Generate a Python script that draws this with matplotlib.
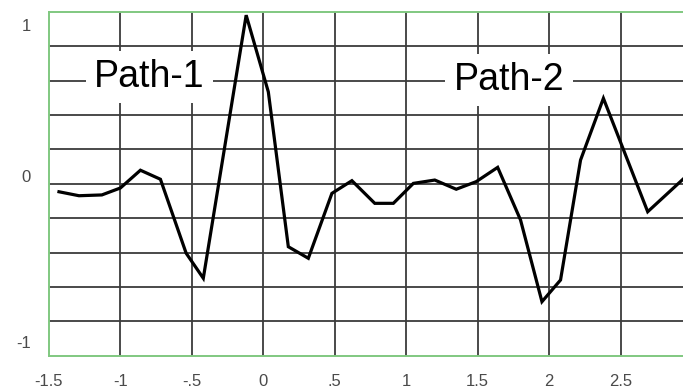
import numpy as np
import matplotlib.pyplot as plt

# path vertices
x_vals = [-1.43, -1.29, -1.13, -1.00, -0.86, -0.72, -0.54, -0.42, -0.12, 0.035,
          0.175, 0.315, 0.48, 0.62, 0.78, 0.91, 1.05, 1.20, 1.35, 1.49,
          1.64, 1.80, 1.95, 2.08, 2.22, 2.38, 2.69, 2.95]
y_vals = [-0.05, -0.075, -0.07, -0.026, 0.086, 0.029, -0.438, -0.596, 1.065, 0.581,
          -0.397, -0.47, -0.06, 0.02, -0.123, -0.123, 0.003, 0.024, -0.034, 0.014,
          0.104, -0.228, -0.744, -0.607, 0.15, 0.54, -0.176, 0.04]

xtick_pos = [-1.5, -1.0, -0.5, 0.0, 0.5, 1.0, 1.5, 2.0, 2.5]
xtick_labels = ['-1.5', '-1', '-.5', '0', '.5', '1', '1.5', '2', '2.5']
ytick_pos = [-1.0, 0.05, 1.0]
ytick_labels = ['-1', '0', '1']

path_names = ['Path-1', 'Path-2']
path_label_x = [-0.797, 1.719]
path_label_y = [0.611, 0.592]

ylo, yhi = -1.085, 1.085
green = '#80c880'
grid_col = '#3c3c3c'

fig = plt.figure(figsize=(6.83, 3.91), dpi=100)
ax = fig.add_axes([0.0717, 0.0903, 0.9283, 0.879])
ax.set_xlim(-1.5, 2.937)
ax.set_ylim(ylo, yhi)

# grid: vertical lines every 0.5, ten horizontal bands
for xv in xtick_pos[1:]:
    ax.axvline(xv, color=grid_col, lw=1.3, zorder=1)
for yv in np.linspace(ylo, yhi, 11)[1:-1]:
    ax.axhline(yv, color=grid_col, lw=1.3, zorder=1)

ax.plot(x_vals, y_vals, color='black', lw=2.3, zorder=3, solid_joinstyle='miter')

for name, tx, ty in zip(path_names, path_label_x, path_label_y):
    ax.text(tx, ty, name, fontsize=27, family='Liberation Sans', ha='center',
            va='baseline', zorder=4,
            bbox=dict(boxstyle='square,pad=0.22', fc='white', ec='none'))

ax.set_xticks(xtick_pos)
ax.set_xticklabels(xtick_labels)
ax.set_yticks(ytick_pos)
ax.set_yticklabels(ytick_labels)
ax.tick_params(axis='x', length=0, pad=13, labelsize=12, labelcolor='#4a4a4a')
ax.tick_params(axis='y', length=0, pad=13, labelsize=12, labelcolor='#4a4a4a')
for lab in ax.get_xticklabels() + ax.get_yticklabels():
    lab.set_family('Liberation Sans')

for side in ['top', 'left', 'bottom']:
    ax.spines[side].set_color(green)
    ax.spines[side].set_linewidth(1.4)
    ax.spines[side].set_zorder(5)
ax.spines['right'].set_visible(False)

fig.savefig('out.png', dpi=100)
